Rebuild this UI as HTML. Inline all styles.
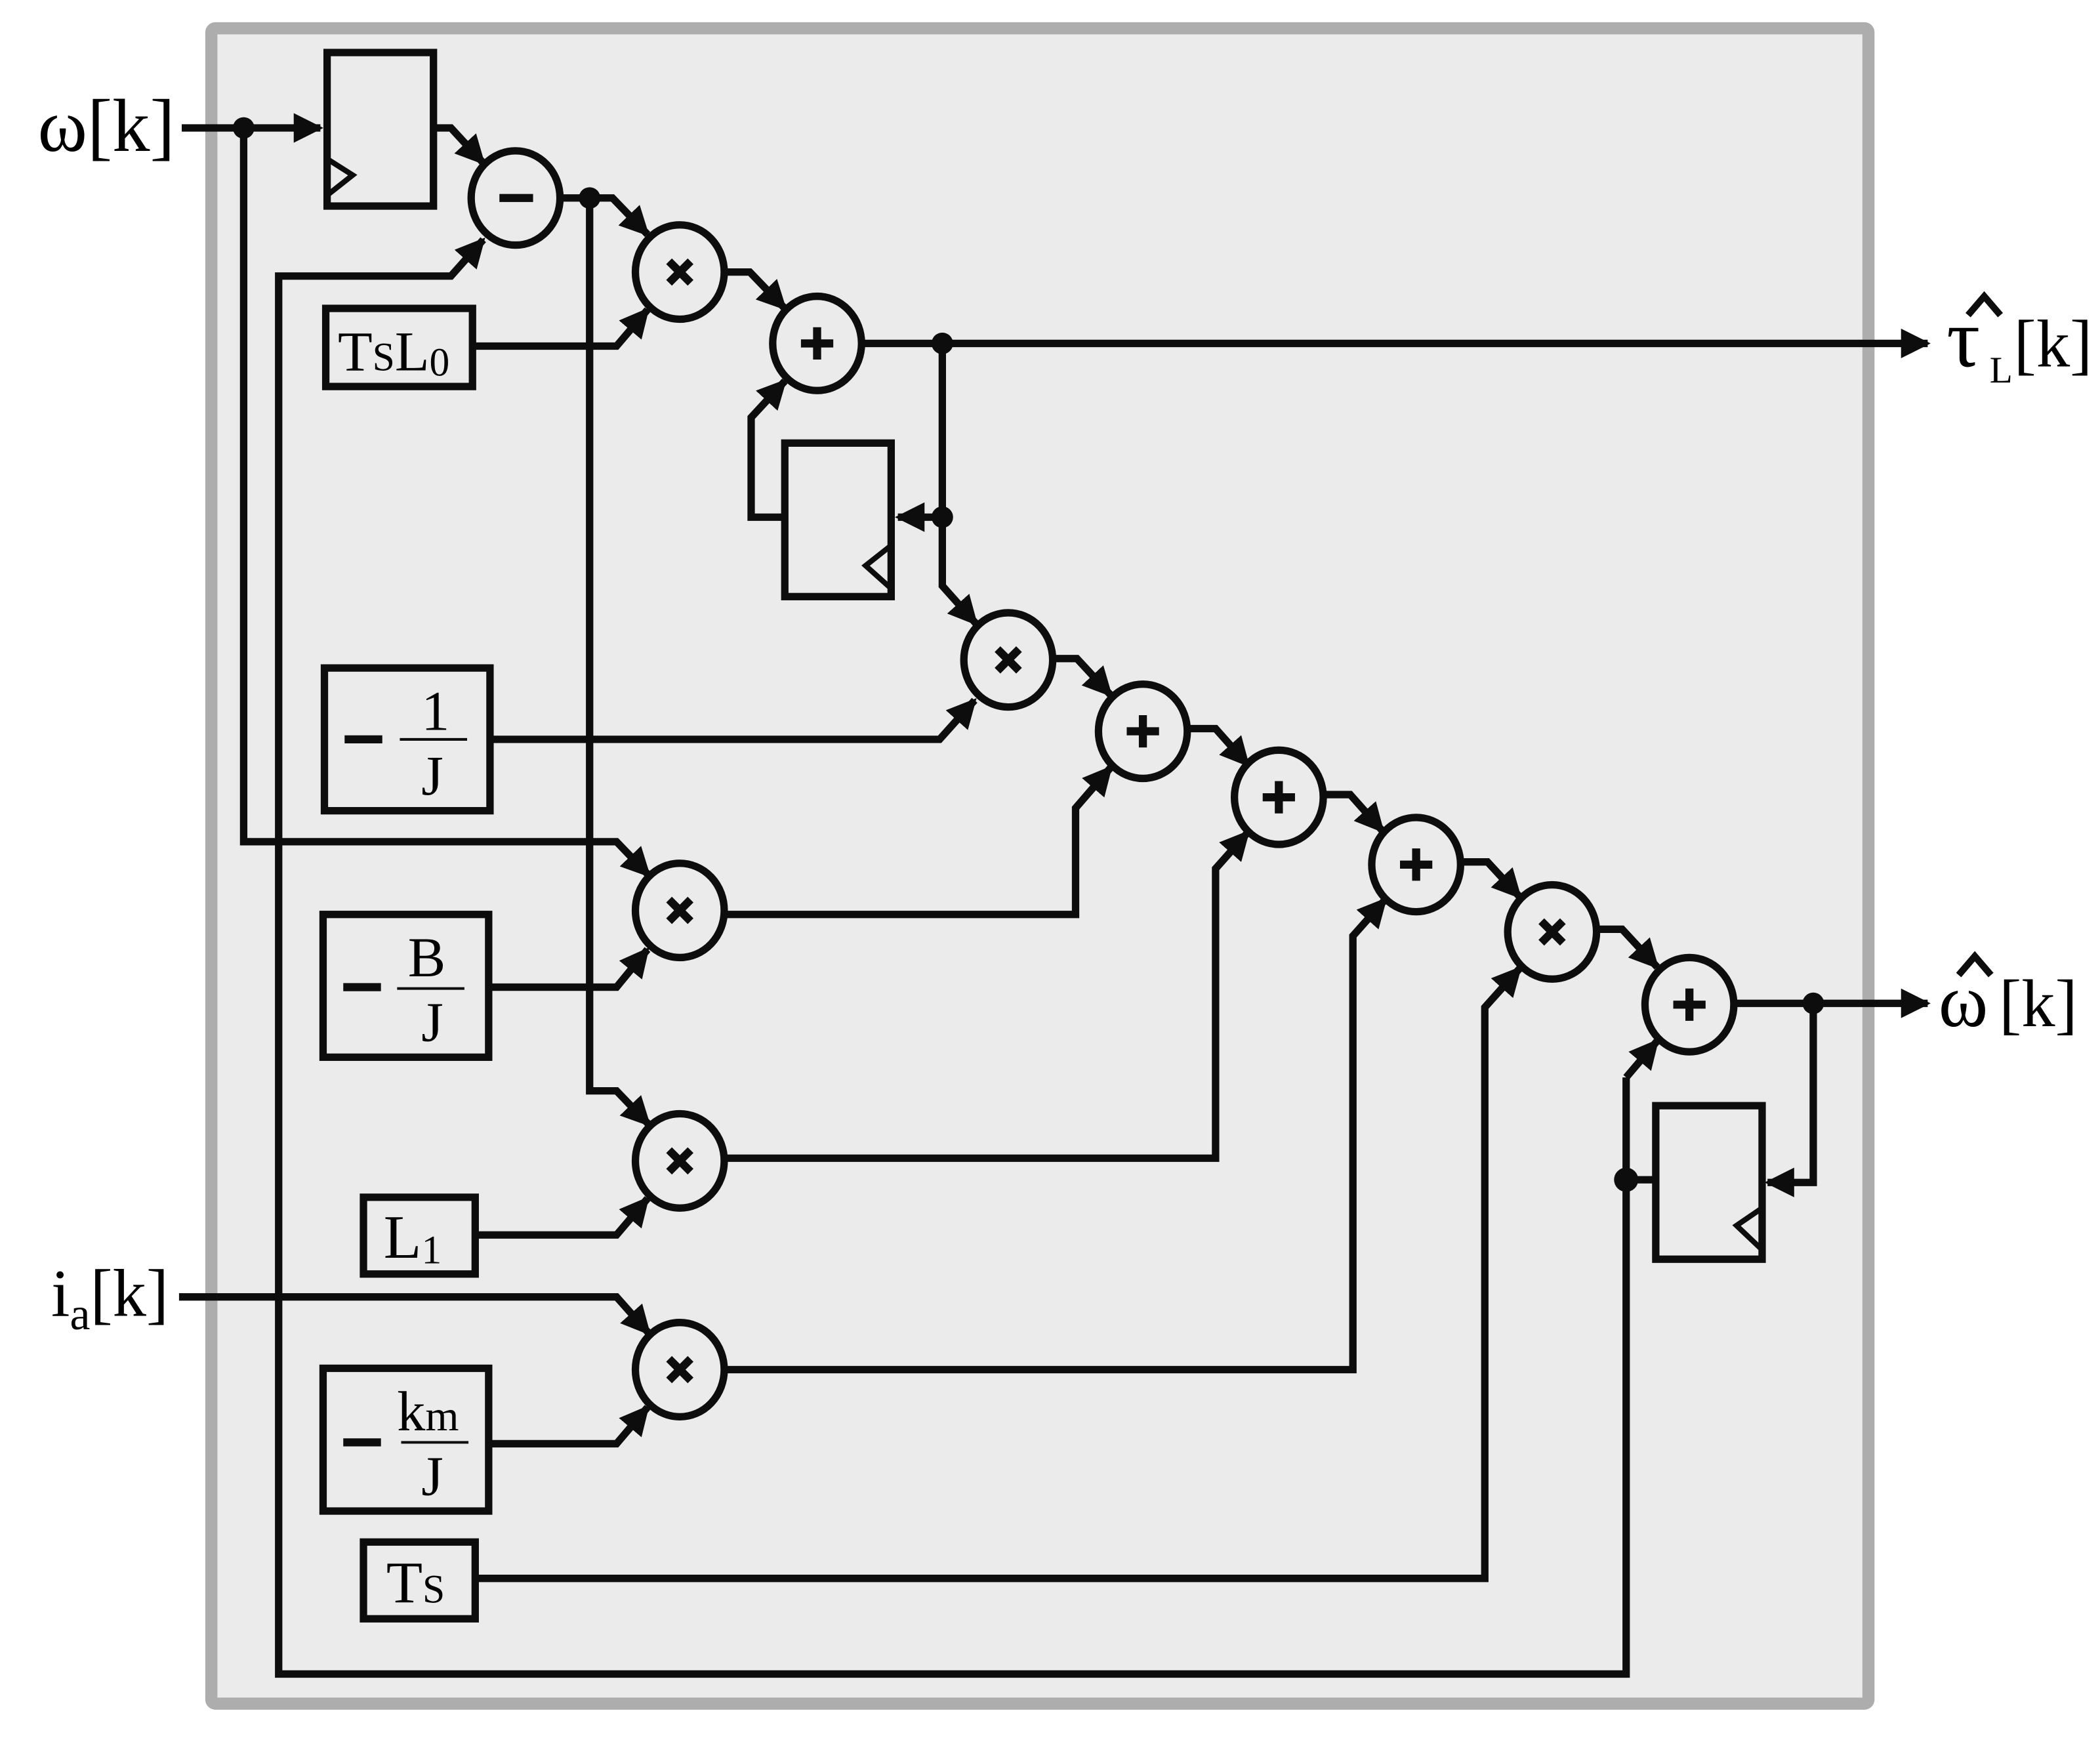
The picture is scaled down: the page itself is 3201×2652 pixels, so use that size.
<!DOCTYPE html>
<html><head><meta charset="utf-8"><style>
html,body{margin:0;padding:0;background:#fff;}
svg{display:block;}
text{font-family:"Liberation Serif",serif;fill:#000;}
</style></head><body>
<svg width="3201" height="2652" viewBox="0 0 1560 1292" preserveAspectRatio="none" xmlns="http://www.w3.org/2000/svg">
<defs>
<marker id="a" viewBox="0 0 10 10" refX="9" refY="5" markerUnits="userSpaceOnUse" markerWidth="22" markerHeight="22" orient="auto">
<path d="M0,0 L10,5 L0,10 z" fill="#0d0d0d"/></marker>
</defs>
<rect x="0" y="0" width="1560" height="1292" fill="#fff"/>
<rect x="157" y="21" width="1231" height="1244" rx="3" fill="#ebebeb" stroke="#adadad" stroke-width="9"/>
<g fill="none" stroke="#0d0d0d" stroke-width="5.5" stroke-linejoin="miter">
<rect x="243" y="39" width="79" height="114"/>
<polyline points="243,118 262,130 243,145" stroke-width="4"/>
<rect x="583" y="329" width="79" height="114"/>
<polyline points="662,405 643,420 662,437" stroke-width="4"/>
<rect x="1230" y="821" width="79" height="114"/>
<polyline points="1309,897 1290,910 1309,928" stroke-width="4"/>
<rect x="242" y="229" width="109" height="58"/>
<rect x="241" y="496" width="123" height="106"/>
<rect x="240" y="679" width="123" height="106"/>
<rect x="270" y="889" width="83" height="57"/>
<rect x="240" y="1016" width="123" height="106"/>
<rect x="270" y="1145" width="83" height="57"/>
<ellipse cx="383" cy="147" rx="33" ry="35"/>
<ellipse cx="505" cy="202" rx="33" ry="35"/>
<ellipse cx="607" cy="255" rx="33" ry="35"/>
<ellipse cx="749" cy="490" rx="33" ry="35"/>
<ellipse cx="849" cy="543" rx="33" ry="35"/>
<ellipse cx="950" cy="592" rx="33" ry="35"/>
<ellipse cx="1052" cy="642" rx="33" ry="35"/>
<ellipse cx="1153" cy="692" rx="33" ry="35"/>
<ellipse cx="1255" cy="746" rx="33" ry="35"/>
<ellipse cx="505" cy="676" rx="33" ry="35"/>
<ellipse cx="505" cy="862" rx="33" ry="35"/>
<ellipse cx="505" cy="1017" rx="33" ry="35"/>
<polyline points="135,95 238,95" marker-end="url(#a)"/>
<polyline points="181,95 181,625 458,625 482,650" marker-end="url(#a)"/>
<polyline points="322,95 335,95 359,121" marker-end="url(#a)"/>
<polyline points="1208,800 1208,1243 207,1243 207,205 335,205 359,178" marker-end="url(#a)"/>
<polyline points="416,147 455,147 481,174" marker-end="url(#a)"/>
<polyline points="438,147 438,810 458,810 482,835" marker-end="url(#a)"/>
<polyline points="351,257 458,257 481,230" marker-end="url(#a)"/>
<polyline points="538,202 557,202 583,229" marker-end="url(#a)"/>
<polyline points="640,255 1432,255" marker-end="url(#a)"/>
<polyline points="700,255 700,384 667,384" marker-end="url(#a)"/>
<polyline points="583,384 558,384 558,310 583,283" marker-end="url(#a)"/>
<polyline points="700,384 700,435 725,463" marker-end="url(#a)"/>
<polyline points="364,549 698,549 724,520" marker-end="url(#a)"/>
<polyline points="782,489 800,489 825,516" marker-end="url(#a)"/>
<polyline points="882,541 903,541 927,568" marker-end="url(#a)"/>
<polyline points="983,590 1003,590 1027,617" marker-end="url(#a)"/>
<polyline points="1085,640 1105,640 1129,666" marker-end="url(#a)"/>
<polyline points="1186,690 1205,690 1231,718" marker-end="url(#a)"/>
<polyline points="1288,745 1432,745" marker-end="url(#a)"/>
<polyline points="1347,745 1347,878 1313,878" marker-end="url(#a)"/>
<polyline points="1208,876 1230,876"/>
<polyline points="1208,800 1231,773" marker-end="url(#a)"/>
<polyline points="363,733 458,733 481,705" marker-end="url(#a)"/>
<polyline points="538,679 799,679 799,600 825,570" marker-end="url(#a)"/>
<polyline points="353,917 458,917 481,890" marker-end="url(#a)"/>
<polyline points="538,860 903,860 903,645 927,618" marker-end="url(#a)"/>
<polyline points="133,963 458,963 482,990" marker-end="url(#a)"/>
<polyline points="363,1072 458,1072 481,1045" marker-end="url(#a)"/>
<polyline points="538,1017 1005,1017 1005,695 1029,668" marker-end="url(#a)"/>
<polyline points="353,1172 1103,1172 1103,748 1129,719" marker-end="url(#a)"/>
<g stroke-width="6">
<line x1="371" y1="147" x2="396" y2="147"/>
<line x1="497" y1="194" x2="513" y2="210"/><line x1="513" y1="194" x2="497" y2="210"/>
<line x1="741" y1="482" x2="757" y2="498"/><line x1="757" y1="482" x2="741" y2="498"/>
<line x1="1145" y1="684" x2="1161" y2="700"/><line x1="1161" y1="684" x2="1145" y2="700"/>
<line x1="497" y1="668" x2="513" y2="684"/><line x1="513" y1="668" x2="497" y2="684"/>
<line x1="497" y1="854" x2="513" y2="870"/><line x1="513" y1="854" x2="497" y2="870"/>
<line x1="497" y1="1009" x2="513" y2="1025"/><line x1="513" y1="1009" x2="497" y2="1025"/>
<line x1="595" y1="255" x2="619" y2="255"/><line x1="607" y1="243" x2="607" y2="267"/>
<line x1="837" y1="543" x2="861" y2="543"/><line x1="849" y1="531" x2="849" y2="555"/>
<line x1="938" y1="592" x2="962" y2="592"/><line x1="950" y1="580" x2="950" y2="604"/>
<line x1="1040" y1="642" x2="1064" y2="642"/><line x1="1052" y1="630" x2="1052" y2="654"/>
<line x1="1243" y1="746" x2="1267" y2="746"/><line x1="1255" y1="734" x2="1255" y2="758"/>
<line x1="256" y1="549" x2="284" y2="549"/>
<line x1="255" y1="733" x2="283" y2="733"/>
<line x1="255" y1="1071" x2="283" y2="1071"/>
</g>
<g stroke-width="2">
<line x1="297" y1="549" x2="347" y2="549"/>
<line x1="295" y1="734" x2="345" y2="734"/>
<line x1="298" y1="1071" x2="348" y2="1071"/>
</g>
<!-- hats -->
<polyline points="1462,234 1474,220 1486,234" stroke-width="5"/>
<polyline points="1455,724 1467,710 1479,724" stroke-width="5"/>
</g>
<g fill="#0d0d0d">
<circle cx="181" cy="95" r="8"/>
<circle cx="438" cy="147" r="8"/>
<circle cx="700" cy="255" r="8"/>
<circle cx="700" cy="384" r="8"/>
<circle cx="1347" cy="745" r="8"/>
<circle cx="1208" cy="876" r="9"/>
</g>
<text x="28" y="112" font-size="56" textLength="102" lengthAdjust="spacingAndGlyphs">ω[k]</text>
<text x="38" y="977" font-size="50">i<tspan font-size="34" dy="10">a</tspan><tspan dy="-10">[k]</tspan></text>
<text x="1446" y="272" font-size="62">τ</text>
<text x="1478" y="284" font-size="28">L</text>
<text x="1496" y="272" font-size="50">[k]</text>
<text x="1440" y="762" font-size="56">ω</text>
<text x="1485" y="762" font-size="50">[k]</text>
<text x="251" y="275" font-size="42">T<tspan font-size="30">S</tspan>L<tspan font-size="30" dy="4">0</tspan></text>
<text x="313" y="542" font-size="42">1</text>
<text x="313" y="590" font-size="42">J</text>
<text x="303" y="725" font-size="42">B</text>
<text x="313" y="773" font-size="42">J</text>
<text x="295" y="1062" font-size="42">k<tspan font-size="32">m</tspan></text>
<text x="313" y="1110" font-size="42">J</text>
<text x="285" y="934" font-size="46">L<tspan font-size="30" dy="4">1</tspan></text>
<text x="287" y="1190" font-size="44">T<tspan font-size="30">S</tspan></text>
</svg>
</body></html>
